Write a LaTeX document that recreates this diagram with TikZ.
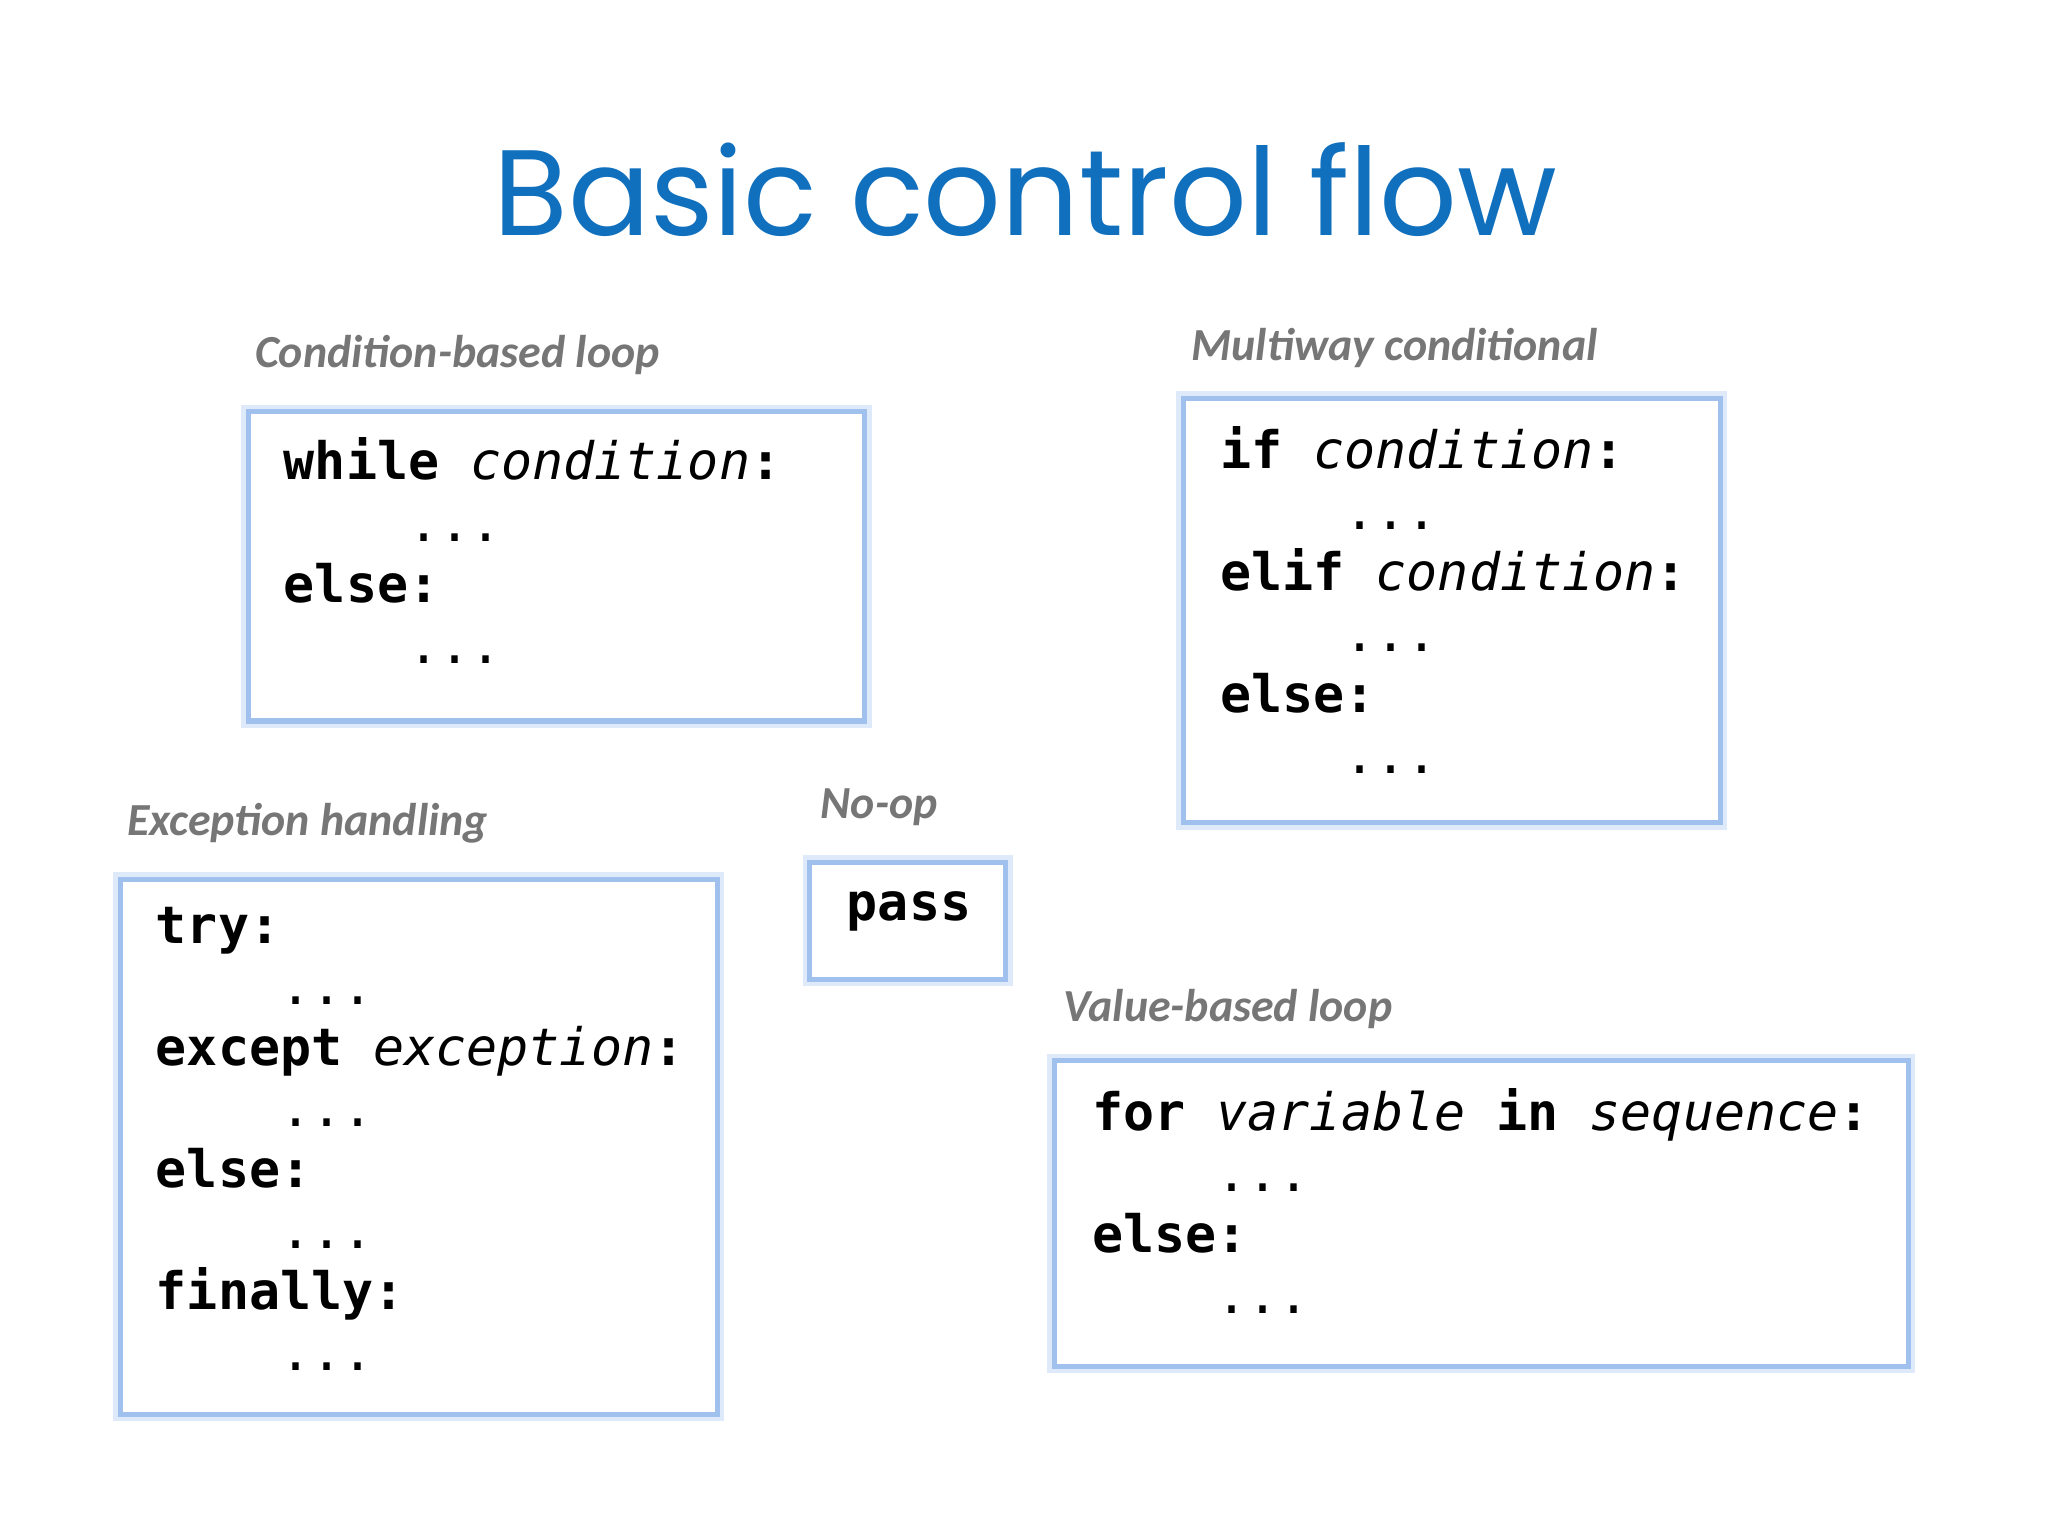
\documentclass[tikz,border=0pt]{standalone}
\usepackage{fontspec}
\newfontfamily\titlefont{Poppins}
\newfontfamily\labfont{Carlito}
\setmonofont{DejaVu Sans Mono}
\definecolor{titleblue}{RGB}{16,112,190}
\definecolor{boxblue}{RGB}{160,192,238}
\definecolor{labgray}{RGB}{118,118,118}
\begin{document}
\begin{tikzpicture}[x=0.02cm,y=-0.02cm,
  cbox/.style={draw=boxblue,line width=2.2pt,fill=white},
  glow/.style={draw=boxblue!35,line width=6pt},
  lab/.style={anchor=base west,inner sep=0pt,font=\labfont\bfseries\itshape\fontsize{20}{24}\selectfont,text=labgray},
  code/.style={anchor=north west,inner sep=0pt,align=left,font=\ttfamily\fontsize{22.5}{26.6}\selectfont}]
\useasboundingbox[fill=white] (0,0) rectangle (1568,1176);
\newcommand\ind{\phantom{xxxx}}
\node[anchor=center,font=\titlefont\fontsize{53}{60}\selectfont,text=titleblue] (title) at (785,145) {Basic control flow};
% boxes
\foreach \a/\b/\c/\d/\n in {190/315/662/552/b1,906/305/1317/630/b2,92/673/549/1083/b3,620/660/770/750/b4,807/812/1461/1046/b5}{
  \draw[glow] (\a,\b) rectangle (\c,\d);
  \draw[cbox] (\a,\b) rectangle (\c,\d);
}
\node[lab] (l1) at (195,281) {Condition-based loop};
\node[lab] (l2) at (912,276) {Multiway conditional};
\node[lab] (l3) at (97,640) {Exception handling};
\node[lab] (l4) at (628,627) {No-op};
\node[lab] (l5) at (814,782) {Value-based loop};
\node[code] (c1) at (217,335) {\textbf{while} \textit{condition}\textbf{:}\\ \ind...\\ \textbf{else:}\\ \ind...};
\node[code] (c2) at (934,326) {\textbf{if} \textit{condition}\textbf{:}\\ \ind...\\ \textbf{elif} \textit{condition}\textbf{:}\\ \ind...\\ \textbf{else:}\\ \ind...};
\node[code] (c3) at (119,694) {\textbf{try:}\\ \ind...\\ \textbf{except} \textit{exception}\textbf{:}\\ \ind...\\ \textbf{else:}\\ \ind...\\ \textbf{finally:}\\ \ind...};
\node[code] (c4) at (648,682) {\textbf{pass}};
\node[code] (c5) at (836,833) {\textbf{for} \textit{variable} \textbf{in} \textit{sequence}\textbf{:}\\ \ind...\\ \textbf{else:}\\ \ind...};
\end{tikzpicture}
\end{document}
